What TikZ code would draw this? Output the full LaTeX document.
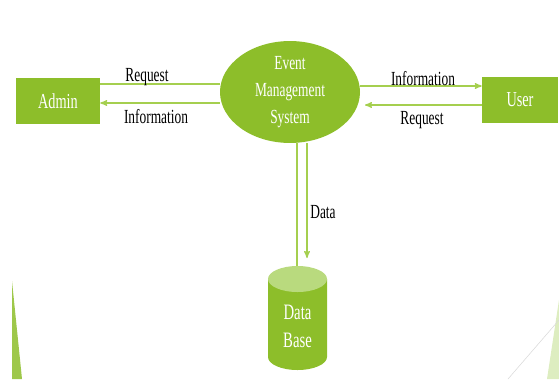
\documentclass[tikz,border=0pt]{standalone}
\usepackage{fontspec}
\setmainfont{Liberation Serif}[FakeStretch=0.67]
\usetikzlibrary{arrows}
\usetikzlibrary{shapes.geometric}
\usepackage{xcolor}
\definecolor{dfdgreen}{RGB}{141,190,42}
\definecolor{dfdlight}{RGB}{185,218,126}
\definecolor{dfdline}{RGB}{165,207,79}
\definecolor{dfdpale}{RGB}{221,237,192}

\begin{document}
\begin{tikzpicture}[x=.75pt, y=-.75pt,
  box/.style={fill=dfdgreen, text=white, minimum height=34.5pt, inner sep=0, font=\fontsize{16}{20}\selectfont},
  proc/.style={ellipse, fill=dfdgreen, text=white, align=center, minimum width=105pt, minimum height=65pt, inner sep=0},
  flow/.style={dfdline, line width=.9pt},
  lbl/.style={inner sep=1pt},
  >=stealth']
\useasboundingbox (0,0) rectangle (559,379);
\fontsize{15}{20.5}\selectfont
% decoration
\fill[dfdgreen!85!white] (12,281)--(12,379)--(22,379)--cycle;
\fill[dfdpale] (559,300)--(547,379)--(559,379)--cycle;
\draw[black!15] (559,320)--(508,379);
% entities and process
\node[box, minimum width=63pt] (admin) at (58,101) {Admin};
\node[box, minimum width=57pt] (user) at (520,100) {User};
\node[proc] (ems) at (290,92) {Event\\Management\\System};
% data store
\fill[dfdgreen] (268,279) -- (268,357) arc[start angle=180, end angle=360, x radius=22.125pt, y radius=9.75pt] -- (327,279) -- cycle;
\fill[dfdlight] (297.5,279) ellipse[x radius=22.125pt, y radius=9.75pt];
\node[text=white, align=center, inner sep=0, font=\fontsize{16.5}{21}\selectfont] (db) at (297.5,326) {Data\\Base};
\coordinate (dbtop) at (297,266);
\coordinate (dbin) at (307,258);
% flows
\draw[flow] (admin.east |- 0,84) -- (ems.west |- 0,84);
\draw[flow,->] (ems.west |- 0,103) -- (admin.east |- 0,103);
\draw[flow,->] (ems.east |- 0,86) -- (user.west |- 0,86);
\draw[flow,->] (user.west |- 0,105) -- (365,105);
\draw[flow] (ems.south -| dbtop) -- (dbtop);
\draw[flow,->] (ems.south -| dbin) -- (dbin);
% labels
\node[lbl] (reqL) at (147,77) {Request};
\node[lbl] (infoL) at (156,117) {Information};
\node[lbl] (infoR) at (423,79) {Information};
\node[lbl] (reqR) at (422,120) {Request};
\node[lbl] (data) at (323,212) {Data};
\end{tikzpicture}
\end{document}
